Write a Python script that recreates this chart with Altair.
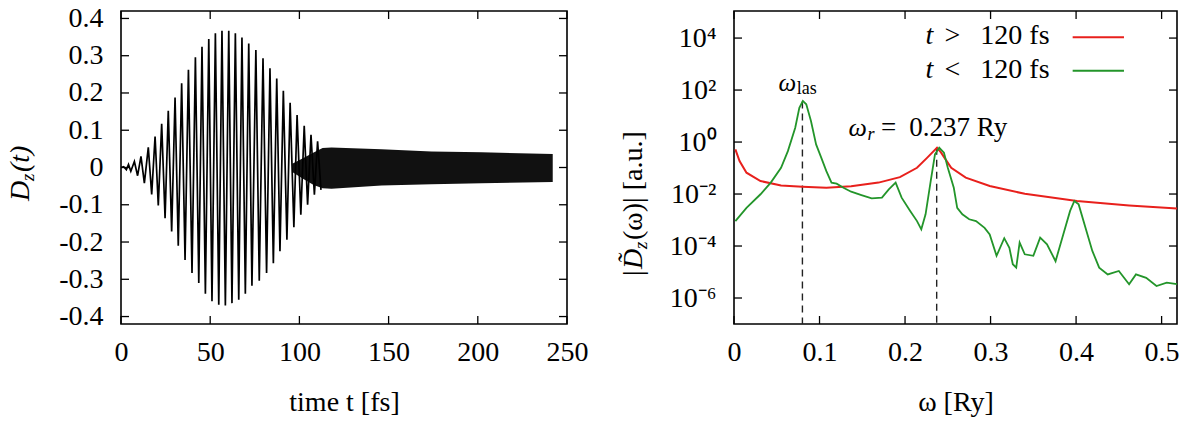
import altair as alt
import pandas as pd

FONT = "Liberation Serif"

# ---------------- left panel: D_z(t) (extrema of the oscillation) ----------------
dz_t = [0.0, 1.5, 3.0, 4.2, 5.5, 7.5, 9.3, 11.2, 13.1, 15.3, 17.2, 19.1, 20.9, 22.8, 24.7, 26.5,
        28.4, 30.3, 32.1, 34.0, 35.9, 37.8, 39.8, 41.7, 43.6, 45.4, 47.3, 49.2, 51.0, 52.9, 54.8,
        56.6, 58.5, 60.4, 62.2, 64.1, 66.0, 67.8, 69.7, 71.6, 73.4, 75.6, 77.5, 79.6, 81.6, 83.5,
        85.4, 87.3, 89.1, 91.0, 93.0, 94.8, 96.9, 98.7, 100.8, 102.7, 104.6, 106.5, 108.4, 110.2, 112.1]
dz_v = [0.0, 0.002, -0.006, 0.008, -0.010, 0.016, -0.022, 0.030, -0.042, 0.054, -0.072, 0.083,
        -0.102, 0.117, -0.136, 0.152, -0.172, 0.188, -0.210, 0.226, -0.248, 0.262, -0.283, 0.296,
        -0.310, 0.324, -0.339, 0.345, -0.359, 0.360, -0.368, 0.367, -0.370, 0.367, -0.364, 0.360,
        -0.355, 0.349, -0.339, 0.333, -0.317, 0.315, -0.304, 0.293, -0.283, 0.266, -0.257, 0.239,
        -0.225, 0.206, -0.194, 0.174, -0.160, 0.141, -0.127, 0.112, -0.100, 0.088, -0.073, 0.070, -0.060]

# dense post-pulse oscillation: upper / lower envelope of the black band
tail_t = [96, 102, 108, 113, 118, 146, 174, 202, 242]
tail_up = [0.010, 0.025, 0.040, 0.052, 0.054, 0.049, 0.043, 0.041, 0.036]
tail_lo = [-0.012, -0.030, -0.047, -0.056, -0.057, -0.048, -0.045, -0.042, -0.039]

t_ticks = [0, 50, 100, 150, 200, 250]
d_ticks = [-0.4, -0.3, -0.2, -0.1, 0.0, 0.1, 0.2, 0.3, 0.4]

# ---------------- right panel: spectra ----------------
red_w = [0.0016, 0.0065, 0.0146, 0.031, 0.055, 0.080, 0.108, 0.137, 0.169, 0.194, 0.214, 0.226,
         0.232, 0.2374, 0.242, 0.246, 0.254, 0.271, 0.299, 0.340, 0.401, 0.462, 0.518]
red_v = [0.52, 0.186, 0.066, 0.0316, 0.0214, 0.0191, 0.0174, 0.020, 0.0275, 0.0447, 0.102, 0.251,
         0.40, 0.60, 0.40, 0.251, 0.102, 0.0427, 0.0204, 0.0102, 0.00537, 0.00363, 0.00275]

green_w = [0.0016, 0.0146, 0.031, 0.043, 0.055, 0.063, 0.0716, 0.0764, 0.0805, 0.0845, 0.090, 0.096,
           0.102, 0.108, 0.114, 0.120, 0.128, 0.137, 0.149, 0.161, 0.173, 0.181, 0.189, 0.196,
           0.206, 0.214, 0.219, 0.224, 0.230, 0.235, 0.240, 0.2455, 0.250, 0.257, 0.261, 0.267,
           0.275, 0.283, 0.293, 0.299, 0.307, 0.316, 0.322, 0.326, 0.330, 0.334, 0.340, 0.350,
           0.358, 0.366, 0.376, 0.385, 0.393, 0.398, 0.403, 0.411, 0.419, 0.427, 0.437, 0.450,
           0.462, 0.470, 0.482, 0.494, 0.506, 0.518]
green_v = [9.1e-4, 2.95e-3, 9.8e-3, 2.75e-2, 0.102, 0.447, 3.55, 20.9, 38.0, 28.2, 6.46, 0.813,
           0.251, 0.0759, 0.0275, 0.0251, 0.0174, 0.0123, 0.00912, 0.00676, 0.00724, 0.0151, 0.0275, 0.00724,
           2.24e-3, 9.1e-4, 4.4e-4, 1.66e-3, 0.0316, 0.339, 0.603, 0.389, 0.102, 0.0174, 2.95e-3, 1.66e-3,
           1.07e-3, 9.1e-4, 5.0e-4, 2.8e-4, 4.2e-5, 2.0e-4, 8.5e-5, 2.0e-5, 1.48e-5, 1.35e-4, 4.8e-5, 4.2e-5,
           2.1e-4, 1.17e-4, 2.6e-5, 2.8e-4, 2.24e-3, 5.4e-3, 4.0e-3, 5.0e-4, 6.5e-5, 1.48e-5, 8.1e-6, 1.1e-5,
           3.4e-6, 8.1e-6, 6.0e-6, 2.9e-6, 3.9e-6, 3.4e-6]

w_ticks = [0, 0.1, 0.2, 0.3, 0.4, 0.5]
s_ticks = [1e-6, 1e-4, 1e-2, 1.0, 1e2, 1e4]
s_labels = ["10⁻⁶", "10⁻⁴", "10⁻²", "10⁰", "10²", "10⁴"]

marker_w = [0.08, 0.237]          # omega_las, omega_r
marker_top = [36.0, 0.60]

RED = "#e8201c"
GREEN = "#23952a"

W1, W2, H = 446, 443, 313
TICK = 8

# ====================== left panel ======================
xs1 = alt.Scale(domain=[0, 250], nice=False, zero=False)
ys1 = alt.Scale(domain=[-0.42, 0.42], nice=False, zero=False)

AX = dict(labelFont=FONT, labelFontSize=28, titleFont=FONT, titleFontSize=28, titleFontWeight="normal",
          labelColor="black", titleColor="black", ticks=False, domain=False, grid=False, labelFlush=False)

ax_x1 = alt.Axis(values=t_ticks, title="time t [fs]", labelPadding=14, titlePadding=22, **AX)
ax_y1 = alt.Axis(values=d_ticks, title=None, labelPadding=18,
                 labelExpr="datum.value == 0 ? '0' : replace(format(datum.value, '.1f'), '\u2212', '-')", **AX)


def X1(f):
    return alt.X(f, scale=xs1, axis=ax_x1)


def Y1(f):
    return alt.Y(f, scale=ys1, axis=ax_y1)


df_dz = pd.DataFrame({"t": dz_t, "v": dz_v})
df_tail = pd.DataFrame({"t": tail_t, "up": tail_up, "lo": tail_lo})

band = alt.Chart(df_tail).mark_area(color="#111111").encode(x=X1("t:Q"), y=Y1("up:Q"), y2="lo:Q")
line1 = alt.Chart(df_dz).mark_line(color="black", strokeWidth=1.7).encode(x=X1("t:Q"), y=Y1("v:Q"))


def xticks(vals, field, Xf):
    df = pd.DataFrame({field: vals})
    bot = alt.Chart(df).mark_rule(color="black", strokeWidth=1.3).encode(
        x=Xf(f"{field}:Q"), y=alt.value(H), y2=alt.value(H - TICK))
    top = alt.Chart(df).mark_rule(color="black", strokeWidth=1.3).encode(
        x=Xf(f"{field}:Q"), y=alt.value(0), y2=alt.value(TICK))
    return [bot, top]


def yticks(vals, field, Yf, width):
    df = pd.DataFrame({field: vals})
    lft = alt.Chart(df).mark_rule(color="black", strokeWidth=1.3).encode(
        y=Yf(f"{field}:Q"), x=alt.value(0), x2=alt.value(TICK))
    rgt = alt.Chart(df).mark_rule(color="black", strokeWidth=1.3).encode(
        y=Yf(f"{field}:Q"), x=alt.value(width), x2=alt.value(width - TICK))
    return [lft, rgt]


def ptext(s, x, y, size=28, style="normal", dx=0, dy=0, angle=0, align="left", baseline="middle"):
    kw = dict(font=FONT, fontSize=size, fontStyle=style, dx=dx, dy=dy, align=align,
              baseline=baseline, color="black")
    if angle:
        kw["angle"] = angle
    return alt.Chart(pd.DataFrame({"s": [s]})).mark_text(**kw).encode(
        x=alt.value(x), y=alt.value(y), text="s:N")


def dtext(s, w, v, Xf, Yf, size=28, style="normal", dx=0, dy=0, align="left", baseline="middle"):
    kw = dict(font=FONT, fontSize=size, fontStyle=style, dx=dx, dy=dy, align=align,
              baseline=baseline, color="black")
    return alt.Chart(pd.DataFrame({"w": [w], "v": [v], "s": [s]})).mark_text(**kw).encode(
        x=Xf("w:Q"), y=Yf("v:Q"), text="s:N")


# left y title  D_z(t), rotated
ly = [
    ptext("D", -100, 190, style="italic", angle=270),
    ptext("z", -100, 190, size=19, style="italic", angle=270, dx=20, dy=7),
    ptext("(t)", -100, 190, style="italic", angle=270, dx=29),
]

left = alt.layer(band, line1, *xticks(t_ticks, "t", X1), *yticks(d_ticks, "v", Y1, W1), *ly).properties(
    width=W1, height=H)

# ====================== right panel ======================
xs2 = alt.Scale(domain=[0, 0.518], nice=False, zero=False)
ys2 = alt.Scale(type="log", domain=[1e-7, 1.1e5], nice=False)

lab_expr = " : ".join(f"datum.value == {v!r} ? '{l}'" for v, l in zip(s_ticks, s_labels)) + " : ''"

ax_x2 = alt.Axis(values=w_ticks, title="ω [Ry]", labelPadding=14, titlePadding=22,
                 labelExpr="datum.value == 0 ? '0' : format(datum.value, '.1f')", **AX)
ax_y2 = alt.Axis(values=s_ticks, title=None, labelPadding=18, labelExpr=lab_expr, **AX)


def X2(f):
    return alt.X(f, scale=xs2, axis=ax_x2)


def Y2(f):
    return alt.Y(f, scale=ys2, axis=ax_y2)


df_red = pd.DataFrame({"w": red_w, "v": red_v})
df_green = pd.DataFrame({"w": green_w, "v": green_v})
df_mark = pd.DataFrame({"w": marker_w, "v": marker_top, "b": [1e-7, 1e-7]})

dash = alt.Chart(df_mark).mark_rule(color="#222222", strokeWidth=1.4, strokeDash=[7, 5]).encode(
    x=X2("w:Q"), y=Y2("v:Q"), y2="b:Q")
red_line = alt.Chart(df_red).mark_line(color=RED, strokeWidth=2).encode(x=X2("w:Q"), y=Y2("v:Q"))
green_line = alt.Chart(df_green).mark_line(color=GREEN, strokeWidth=1.8).encode(x=X2("w:Q"), y=Y2("v:Q"))

# legend (key) at top right, text left of the line sample
leg_y = [1.23e4, 600.0]
leg_line = pd.DataFrame({"w": [0.396, 0.396], "w2": [0.456, 0.456], "v": [1.07e4, 550.0], "c": ["r", "g"]})
key_lines = alt.Chart(leg_line).mark_rule(strokeWidth=2).encode(
    x=X2("w:Q"), x2="w2:Q", y=Y2("v:Q"),
    color=alt.Color("c:N", scale=alt.Scale(domain=["r", "g"], range=[RED, GREEN]), legend=None),
)
key_text = [
    dtext("t", 0.224, leg_y[0], X2, Y2, style="italic"),
    dtext(">", 0.246, leg_y[0], X2, Y2),
    dtext("120 fs", 0.288, leg_y[0], X2, Y2),
    dtext("t", 0.224, leg_y[1], X2, Y2, style="italic"),
    dtext("<", 0.246, leg_y[1], X2, Y2),
    dtext("120 fs", 0.288, leg_y[1], X2, Y2),
]

ann = [
    dtext("ω", 0.052, 186.0, X2, Y2, size=25, style="italic"),
    dtext("las", 0.0735, 186.0, X2, Y2, size=18, dy=6),
    dtext("ω", 0.134, 3.47, X2, Y2, size=26, style="italic"),
    dtext("r", 0.156, 3.47, X2, Y2, size=18, style="italic", dy=7),
    dtext("=", 0.172, 3.47, X2, Y2, size=27),
    dtext("0.237 Ry", 0.205, 3.47, X2, Y2, size=27),
]

ry = [
    ptext("|", -100, 265, angle=270),
    ptext("D\u0303", -100, 265, style="italic", angle=270, dx=7),
    ptext("z", -100, 265, size=19, style="italic", angle=270, dx=27, dy=7),
    ptext("(ω)| [a.u.]", -100, 265, angle=270, dx=36),
]

right = alt.layer(dash, red_line, green_line, key_lines, *key_text, *ann,
                  *xticks(w_ticks, "w", X2), *yticks(s_ticks, "v", Y2, W2), *ry).properties(
    width=W2, height=H)

chart = alt.hconcat(left, right, spacing=167, bounds="flush").properties(
    padding={"left": 6, "top": 3, "right": 0, "bottom": 0}, background="white"
).configure_view(
    stroke="black", strokeWidth=1.6
)

chart.save("out.html", embed_options={"renderer": "svg", "actions": False})
